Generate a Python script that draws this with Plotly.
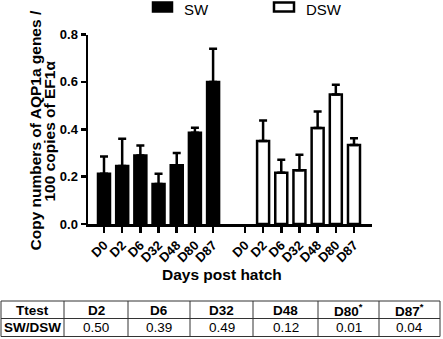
import plotly.graph_objects as go

# ---------------- data ----------------
days = ["D0", "D2", "D6", "D32", "D48", "D80", "D87"]
sw_mean = [0.212, 0.245, 0.289, 0.169, 0.248, 0.385, 0.600]
sw_sem = [0.073, 0.115, 0.042, 0.043, 0.052, 0.021, 0.140]
dsw_mean = [None, 0.350, 0.216, 0.227, 0.405, 0.547, 0.334]
dsw_sem = [None, 0.087, 0.055, 0.065, 0.070, 0.041, 0.028]

table_days = ["D2", "D6", "D32", "D48", "D80", "D87"]
table_p = [0.50, 0.39, 0.49, 0.12, 0.01, 0.04]
table_sig = [False, False, False, False, True, True]

# ---------------- layout helpers ----------------
W, H = 443, 339
FONT = "Arial, Liberation Sans, sans-serif"


def px(x):
    return x / W


def py(y):
    return 1 - y / H


group_gap = 1.75
sw_x = [i for i in range(len(days))]
dsw_x = [len(days) - 1 + group_gap + i for i in range(len(days))]

fig = go.Figure()
fig.add_trace(go.Bar(
    x=sw_x, y=sw_mean, name="SW", width=0.66,
    marker=dict(color="black", line=dict(color="black", width=2.5)),
    error_y=dict(type="data", array=sw_sem, symmetric=False,
                 arrayminus=[0] * len(sw_sem), color="black",
                 thickness=2.5, width=4),
    showlegend=False, hoverinfo="skip",
))
fig.add_trace(go.Bar(
    x=dsw_x, y=dsw_mean, name="DSW", width=0.66,
    marker=dict(color="white", line=dict(color="black", width=2.5)),
    error_y=dict(type="data", array=dsw_sem, symmetric=False,
                 arrayminus=[0] * len(dsw_sem), color="black",
                 thickness=2.5, width=4),
    showlegend=False, hoverinfo="skip",
))

fig.update_layout(
    width=W, height=H, autosize=False,
    margin=dict(l=0, r=0, t=0, b=0),
    paper_bgcolor="white", plot_bgcolor="white",
    barmode="overlay",
    font=dict(family=FONT, color="black"),
    xaxis=dict(
        domain=[px(88), px(372)],
        range=[-0.88, dsw_x[-1] + 0.99],
        tickvals=sw_x + dsw_x, ticktext=days + days,
        tickangle=-45,
        tickfont=dict(family=FONT, size=13, weight=700, color="black"),
        showline=True, linewidth=2.5, linecolor="black",
        ticks="outside", ticklen=6, tickwidth=2.5, tickcolor="black",
        showgrid=False, zeroline=False, automargin=False,
    ),
    yaxis=dict(
        domain=[py(224), py(34.5)],
        range=[0, 0.8],
        tickvals=[0, 0.2, 0.4, 0.6, 0.8], tickformat=".1f",
        tickfont=dict(family=FONT, size=13, weight=700, color="black"),
        showline=True, linewidth=2.5, linecolor="black",
        ticks="outside", ticklen=5, tickwidth=2.5, tickcolor="black",
        showgrid=False, zeroline=False, automargin=False,
    ),
)

annos = [
    dict(text="<b>Copy numbers of AQP1a genes /</b>", x=px(34.5), y=py(131),
         textangle=-90, font=dict(size=15.5)),
    dict(text="<b>100 copies of EF1α</b>", x=px(48.5), y=py(131),
         textangle=-90, font=dict(size=15.5)),
    dict(text="<b>Days post hatch</b>", x=px(221.5), y=py(274),
         font=dict(size=15.5)),
    dict(text="SW", x=px(183), y=py(0), xanchor="left", yanchor="top",
         borderpad=0, font=dict(size=15)),
    dict(text="DSW", x=px(305), y=py(0), xanchor="left", yanchor="top",
         borderpad=0, font=dict(size=15)),
]

# ---------------- table (drawn with shapes + text) ----------------
col_edges = [1, 64, 128, 190, 253, 318, 379, 440]
row_edges = [301, 318.5, 336.5]
tcolor = "#333"
fig.add_shape(type="rect", xref="paper", yref="paper",
              x0=px(col_edges[0]), x1=px(col_edges[-1]),
              y0=py(row_edges[-1]), y1=py(row_edges[0]),
              line=dict(color=tcolor, width=1), fillcolor="rgba(0,0,0,0)")
fig.add_shape(type="line", xref="paper", yref="paper",
              x0=px(col_edges[0]), x1=px(col_edges[-1]),
              y0=py(row_edges[1]), y1=py(row_edges[1]),
              line=dict(color=tcolor, width=1))
for ce in col_edges[1:-1]:
    fig.add_shape(type="line", xref="paper", yref="paper",
                  x0=px(ce), x1=px(ce), y0=py(row_edges[-1]), y1=py(row_edges[0]),
                  line=dict(color=tcolor, width=1))

header_vals = ["<b>Ttest</b>"] + [
    f"<b>{d}<sup>*</sup></b>" if s else f"<b>{d}</b>"
    for d, s in zip(table_days, table_sig)
]
row_vals = ["<b>SW/DSW</b>"] + [f"{p:.2f}" for p in table_p]
for i in range(len(header_vals)):
    xc = (col_edges[i] + col_edges[i + 1]) / 2
    annos.append(dict(text=header_vals[i], x=px(xc),
                      y=py((row_edges[0] + row_edges[1]) / 2 + 0.5),
                      font=dict(size=13.5)))
    annos.append(dict(text=row_vals[i], x=px(xc),
                      y=py((row_edges[1] + row_edges[2]) / 2),
                      font=dict(size=13.5)))

for a in annos:
    a.setdefault("xanchor", "center")
    a.setdefault("yanchor", "middle")
    a.update(xref="paper", yref="paper", showarrow=False)
    a["font"].update(family=FONT, color="black")
    fig.add_annotation(**a)

# legend swatches
fig.add_shape(type="rect", xref="paper", yref="paper",
              x0=px(153), x1=px(172), y0=py(11.5), y1=py(2.5),
              fillcolor="black", line=dict(color="black", width=2.5))
fig.add_shape(type="rect", xref="paper", yref="paper",
              x0=px(274), x1=px(294), y0=py(11.5), y1=py(2.5),
              fillcolor="white", line=dict(color="black", width=2.5))

fig.write_html(
    "out.html",
    config={"displayModeBar": False, "staticPlot": True},
    post_script="document.body.style.margin='0';document.body.style.overflow='hidden';",
)
